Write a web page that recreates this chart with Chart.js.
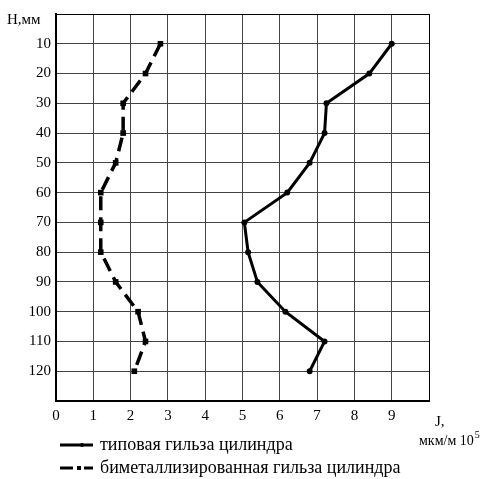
<!DOCTYPE html>
<html>
<head>
<meta charset="utf-8">
<script src="https://cdn.jsdelivr.net/npm/chart.js@4"></script>
<style>
  html, body { margin:0; padding:0; background:#fff; }
  #wrap { position:relative; width:481px; height:479px; }
</style>
</head>
<body>
<div id="wrap"><canvas id="chart" width="481" height="479"></canvas></div>
<script>
// heights H, mm
var heights = [10,20,30,40,50,60,70,80,90,100,110,120];
// J values, мкм/м 10^5
var typical = [9.0,8.4,7.25,7.2,6.8,6.2,5.05,5.15,5.4,6.15,7.2,6.8];
var bimetal = [2.8,2.4,1.8,1.8,1.6,1.2,1.2,1.2,1.6,2.2,2.4,2.1];
var xTicks = [0,1,2,3,4,5,6,7,8,9];
var yTicks = [10,20,30,40,50,60,70,80,90,100,110,120];
var legendLabels = ['типовая гильза цилиндра','биметаллизированная гильза цилиндра'];

var serif = '"Liberation Serif", "Times New Roman", serif';

function pts(xs){ return heights.map(function(h,i){ return {x: xs[i], y: h}; }); }

var extras = {
  id:'extras',
  afterDraw: function(chart){
    var c = chart.ctx;
    c.save();
    c.fillStyle = '#000';
    c.textBaseline = 'middle';
    c.textAlign = 'left';
    c.font = '15px ' + serif;
    c.fillText('H,мм', 7, 20);
    c.fillText('J,', 435, 422);
    c.font = '14px ' + serif;
    c.fillText('мкм/м 10', 419, 441);
    var w = c.measureText('мкм/м 10').width;
    c.font = '10px ' + serif;
    c.fillText('5', 419 + w + 1, 435);
    // legend
    c.font = '18px ' + serif;
    c.fillText(legendLabels[0], 100, 445);
    c.fillText(legendLabels[1], 100, 468);
    c.strokeStyle = '#000';
    c.lineWidth = 3;
    c.beginPath(); c.moveTo(60,445); c.lineTo(93,445); c.stroke();
    c.beginPath(); c.arc(82,445,2,0,Math.PI*2); c.fill();
    c.beginPath(); c.moveTo(60,468); c.lineTo(73,468); c.stroke();
    c.fillRect(77,466,4,4);
    c.beginPath(); c.moveTo(84,468); c.lineTo(93,468); c.stroke();
    c.restore();
  }
};

new Chart(document.getElementById('chart').getContext('2d'), {
  type:'scatter',
  data:{
    datasets:[
      {label:legendLabels[0], data:pts(typical), showLine:true, borderColor:'#000', backgroundColor:'#000',
       borderWidth:3, pointRadius:1.5, pointStyle:'circle'},
      {label:legendLabels[1], data:pts(bimetal), showLine:true, borderColor:'#000', backgroundColor:'#000',
       borderWidth:3.5, borderDash:[14,7], pointRadius:1.5, pointStyle:'rect'}
    ]
  },
  options:{
    responsive:false,
    animation:false,
    layout:{padding:{top:11, right:52, left:0, bottom:0}},
    plugins:{legend:{display:false}, tooltip:{enabled:false}},
    scales:{
      x:{
        type:'linear', min:0, max:10,
        afterBuildTicks:function(s){ s.ticks = xTicks.concat([10]).map(function(v){return {value:v};}); },
        afterFit:function(s){ s.height = 78; },
        ticks:{color:'#000', font:{family:serif, size:15}, padding:6,
          callback:function(v){ return xTicks.indexOf(v) >= 0 ? String(v) : ''; }},
        grid:{drawTicks:false, lineWidth:1,
          color:function(ctx){ return ctx.tick && ctx.tick.value === 10 ? '#000' : '#444'; }},
        border:{color:'#000', width:2}
      },
      y:{
        type:'linear', min:0, max:130, reverse:true,
        afterBuildTicks:function(s){ s.ticks = [0].concat(yTicks, [130]).map(function(v){return {value:v};}); },
        afterFit:function(s){ s.width = 56; },
        ticks:{color:'#000', font:{family:serif, size:15}, padding:5,
          callback:function(v){ return yTicks.indexOf(v) >= 0 ? String(v) : ''; }},
        grid:{drawTicks:false, lineWidth:1,
          color:function(ctx){ return ctx.tick && ctx.tick.value === 0 ? '#000' : '#444'; }},
        border:{color:'#000', width:2}
      }
    }
  },
  plugins:[extras]
});
</script>
</body>
</html>
